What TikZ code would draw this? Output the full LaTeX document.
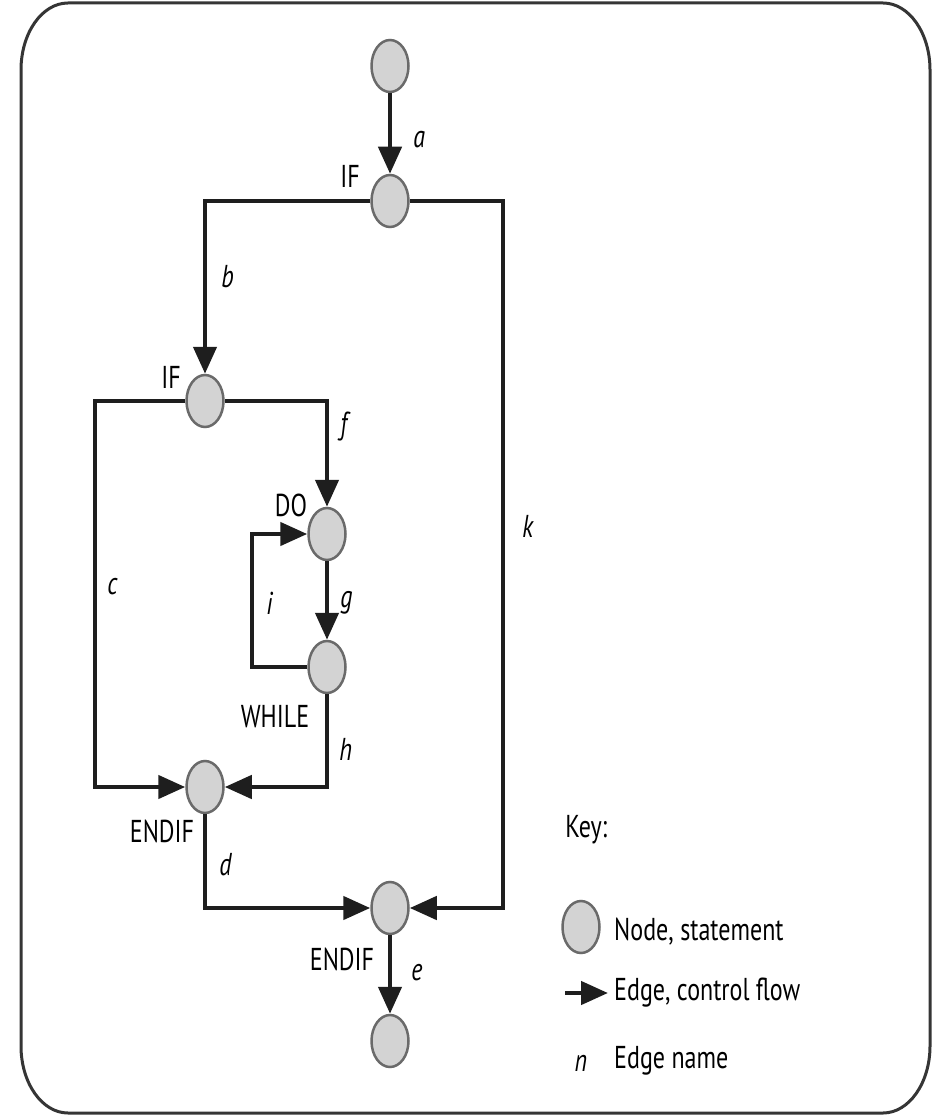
\documentclass[tikz,border=0pt]{standalone}
\usepackage{fontspec}
\setmainfont{PT Sans}[FakeStretch=0.76]
\usepackage{xcolor}
\usetikzlibrary{arrows.meta,positioning,shapes.geometric}
\definecolor{nodefill}{HTML}{D3D3D3}
\definecolor{nodeline}{HTML}{6A6A6A}
\definecolor{ink}{HTML}{1E1E1E}

\begin{document}
\begin{tikzpicture}[>={Triangle[length=5.4mm,width=4.6mm]}, every node/.style={font=\fontsize{18}{21}\selectfont},
stmt/.style={ellipse,draw=nodeline,fill=nodefill,line width=0.5mm,minimum width=7.4mm,minimum height=10.4mm,inner sep=0pt},
flow/.style={->,draw=ink,line width=0.9mm},
elbl/.style={font=\fontsize{18}{21}\selectfont\itshape,inner sep=0pt},
tag/.style={inner sep=0pt},
frame/.style={draw=ink!90,line width=0.6mm}]
\useasboundingbox (0,0) rectangle (18.84,-22.32);
\draw[frame] (0.42,-1.40) arc[start angle=180,end angle=90,x radius=0.94,y radius=1.34] -- (17.66,-0.06)
  arc[start angle=90,end angle=0,x radius=0.94,y radius=1.34] -- (18.6,-20.92)
  arc[start angle=0,end angle=-90,x radius=0.94,y radius=1.34] -- (1.36,-22.26)
  arc[start angle=270,end angle=180,x radius=0.94,y radius=1.34] -- cycle;
% statements
\node[stmt] (start) at (7.8,-1.32) {};
\node[stmt] (if1) at (7.8,-4.02) {};
\node[stmt] (if2) at (4.1,-8.02) {};
\node[stmt] (do) at (6.54,-10.68) {};
\node[stmt] (while) at (6.54,-13.34) {};
\node[stmt] (endif1) at (4.1,-15.74) {};
\node[stmt] (endif2) at (7.8,-18.16) {};
\node[stmt] (stop) at (7.8,-20.82) {};
\node[tag] (if1tag) at (7.0,-3.52) {IF};
\node[tag] (if2tag) at (3.42,-7.54) {IF};
\node[tag] (dotag) at (5.82,-10.1) {DO};
\node[tag] (whiletag) at (5.5,-14.34) {WHILE};
\node[tag] (endif1tag) at (3.24,-16.62) {ENDIF};
\node[tag] (endif2tag) at (6.84,-19.18) {ENDIF};
% turning points
\coordinate (cturn) at (1.9,-15.74);
\coordinate (iturn) at (5.04,-10.68);
\coordinate (kturn) at (10.06,-18.16);
% edges
\draw[flow] (start) -- node[elbl,pos=.58,right=4.2mm] {a} (if1);
\draw[flow] (if1) -| node[elbl,pos=.72,right=2.8mm] {b} (if2);
\draw[flow] (if2) -| node[elbl,pos=.74,right=2mm] {c} (cturn) -- (endif1);
\draw[flow] (if2) -| node[elbl,pos=.62,right=2.2mm] {f} (do);
\draw[flow] (do) -- node[elbl,pos=.53,right=2.2mm] {g} (while);
\draw[flow] (while) |- node[elbl,pos=.3,right=2mm] {h} (endif1);
\draw[flow] (while) -| node[elbl,pos=.74,right=2.4mm] {i} (iturn) -- (do);
\draw[flow] (if1) -| node[elbl,pos=.73,right=3.4mm] {k} (kturn) -- (endif2);
\draw[flow] (endif1) |- node[elbl,pos=.27,right=2.4mm] {d} (endif2);
\draw[flow] (endif2) -- node[elbl,pos=.48,right=3.8mm] {e} (stop);
% key
\node[tag,anchor=west] (keytitle) at (11.3,-16.6) {Key:};
\node[stmt] (keynode) at (11.62,-18.54) {};
\node[anchor=west] (keynodetxt) at (12.16,-18.64) {Node, statement};
\coordinate (keytail) at (11.3,-19.86);
\node[anchor=west] (keyflowtxt) at (12.16,-19.86) {Edge, control flow};
\draw[flow] (keytail) -- (keyflowtxt);
\node[elbl] (keyn) at (11.62,-21.26) {n};
\node[anchor=west] (keynametxt) at (12.16,-21.22) {Edge name};
\end{tikzpicture}
\end{document}
